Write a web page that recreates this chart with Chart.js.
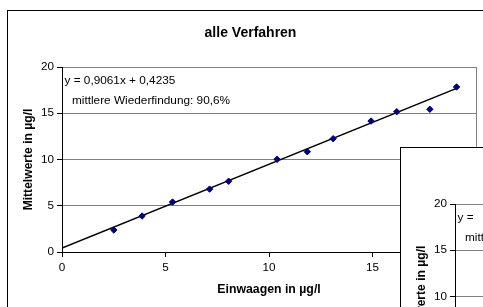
<!DOCTYPE html>
<html><head><meta charset="utf-8">
<script src="https://cdn.jsdelivr.net/npm/chart.js@4/dist/chart.umd.min.js"></script>
<style>
html,body{margin:0;padding:0;width:483px;height:307px;overflow:hidden;background:#fff;}
#c1{position:absolute;left:0;top:0;}
#c2{position:absolute;left:393px;top:137px;}
</style></head><body>
<canvas id="c1" width="520" height="307"></canvas>
<canvas id="c2" width="520" height="307"></canvas>
<script>
// ---- data ----
const chartTitle = "alle Verfahren";
const xAxisTitle = "Einwaagen in µg/l";
const yAxisTitle = "Mittelwerte in µg/l";
const xTickValues = [0, 5, 10, 15, 20];
const yTickValues = [0, 5, 10, 15, 20];
const einwaagen   = [2.5, 3.87, 5.34, 7.13, 8.05, 10.39, 11.85, 13.1, 14.93, 16.17, 17.77, 19.06];
const mittelwerte = [2.38, 3.89, 5.4, 6.8, 7.65, 10.02, 10.84, 12.25, 14.16, 15.17, 15.43, 17.84];
const trendX = [0, 19.06];
const trendY = [0.42, 17.69];
const equationText = "y = 0,9061x + 0,4235";
const recoveryText = "mittlere Wiederfindung: 90,6%";
// second (overlapping, cut-off) chart: only its frame, axes and text starts are visible
const overlayEquationText = "y =";
const overlayRecoveryText = "mittlere Wiederfindung:";

const FONT = "'Liberation Sans', Arial, sans-serif";
Chart.defaults.font.family = FONT;
Chart.defaults.color = '#000';

const framePlugin = {
  id: 'frame',
  beforeDraw(chart, args, opts) {
    const ctx = chart.ctx;
    ctx.save();
    ctx.fillStyle = '#fff';
    ctx.fillRect(7, 10, chart.width, chart.height);
    ctx.strokeStyle = '#000';
    ctx.lineWidth = 1;
    ctx.strokeRect(7.5, 10.5, chart.width + 20, chart.height + 20);
    ctx.restore();
  },
  afterDatasetsDraw(chart, args, opts) {
    const ctx = chart.ctx;
    const a = chart.chartArea;
    ctx.save();
    ctx.fillStyle = '#000';
    ctx.textBaseline = 'alphabetic';
    ctx.font = 'bold 14px ' + FONT;
    ctx.textAlign = 'center';
    ctx.fillText(opts.title, 250.5, 36.5);
    ctx.font = '11.8px ' + FONT;
    ctx.textAlign = 'left';
    ctx.fillText(opts.line1, a.left + 2.5, a.top + 16.5);
    ctx.fillText(opts.line2, a.left + 10, a.top + 36.5);
    ctx.restore();
  }
};

function makeConfig(xs, ys, tx, ty, line1, line2) {
  const pts = xs.map((x, i) => ({x: x, y: ys[i]}));
  const trend = tx.map((x, i) => ({x: x, y: ty[i]}));
  return {
    type: 'scatter',
    data: {
      datasets: [
        {
          data: pts,
          pointStyle: 'rectRot',
          pointRadius: 3.2,
          backgroundColor: '#000080',
          borderColor: '#000080',
          borderWidth: 1,
          order: 1
        },
        {
          data: trend,
          showLine: true,
          borderColor: '#000',
          borderWidth: 1.6,
          pointRadius: 0,
          order: 2
        }
      ]
    },
    options: {
      responsive: false,
      animation: false,
      events: [],
      layout: {padding: {left: 7, top: 67, right: 44, bottom: 0}},
      plugins: {
        legend: {display: false},
        tooltip: {enabled: false},
        frame: {title: chartTitle, line1: line1, line2: line2}
      },
      scales: {
        x: {
          type: 'linear', min: 0, max: 20,
          afterBuildTicks: s => { s.ticks = xTickValues.map(v => ({value: v})); },
          afterFit: s => { s.height = 55; },
          ticks: {font: {size: 11.7}, padding: 4, color: '#000', maxRotation: 0},
          grid: {
            color: c => (c.tick && c.tick.value === 20) ? '#808080' : (c.tick && c.tick.value === 0 ? '#000' : 'rgba(0,0,0,0)'),
            tickColor: '#000', tickLength: 5, lineWidth: 1
          },
          border: {display: true, color: '#000', width: 1},
          title: {display: true, text: xAxisTitle, font: {size: 12.3, weight: 'bold'}, color: '#000', padding: {top: 0, bottom: 10.5}}
        },
        y: {
          type: 'linear', min: 0, max: 20,
          afterBuildTicks: s => { s.ticks = yTickValues.map(v => ({value: v})); },
          afterFit: s => { s.width = 55; },
          ticks: {font: {size: 11.7}, padding: 3, color: '#000'},
          grid: {
            color: c => (c.tick && c.tick.value === 0) ? '#000' : '#808080',
            tickColor: '#000', tickLength: 5, lineWidth: 1
          },
          border: {display: true, color: '#000', width: 1},
          title: {display: true, text: yAxisTitle, font: {size: 12.1, weight: 'bold'}, color: '#000', padding: {top: 14, bottom: 0}}
        }
      }
    },
    plugins: [framePlugin]
  };
}

new Chart(document.getElementById('c1'), makeConfig(einwaagen, mittelwerte, trendX, trendY, equationText, recoveryText));
new Chart(document.getElementById('c2'), makeConfig([], [], [], [], overlayEquationText, overlayRecoveryText));
</script>
</body></html>
